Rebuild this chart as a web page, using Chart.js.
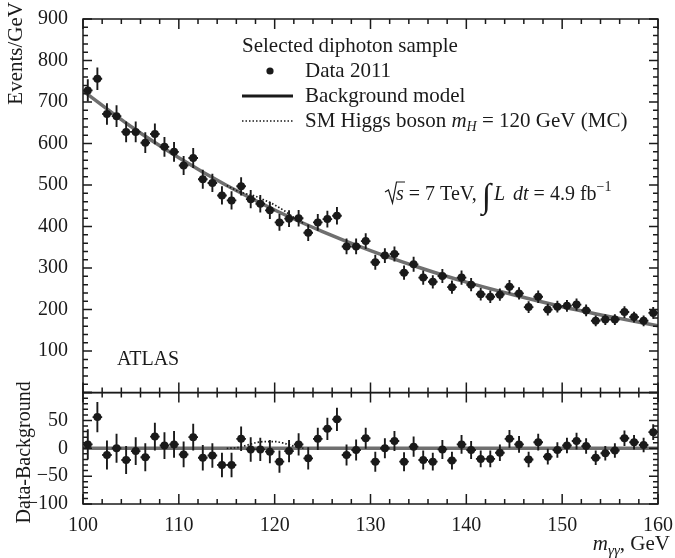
<!DOCTYPE html>
<html>
<head>
<meta charset="utf-8">
<script src="https://cdn.jsdelivr.net/npm/chart.js@4.4.1/dist/chart.umd.min.js"></script>
<style>
  html, body { margin:0; padding:0; background:#fff; }
  #wrap { position:relative; width:675px; height:558px; }
</style>
</head>
<body>
<div id="wrap"><canvas id="c" width="675" height="558"></canvas></div>
<script>
// ── DATA ──
const massBins = [
  100.5,101.5,102.5,103.5,104.5,105.5,106.5,107.5,108.5,109.5,
  110.5,111.5,112.5,113.5,114.5,115.5,116.5,117.5,118.5,119.5,
  120.5,121.5,122.5,123.5,124.5,125.5,126.5,127.5,128.5,129.5,
  130.5,131.5,132.5,133.5,134.5,135.5,136.5,137.5,138.5,139.5,
  140.5,141.5,142.5,143.5,144.5,145.5,146.5,147.5,148.5,149.5,
  150.5,151.5,152.5,153.5,154.5,155.5,156.5,157.5,158.5,159.5
];
const events = [
  728,756,671,666,628,628,602,623,592,580,
  547,565,514,505,475,463,497,466,455,439,
  410,419,420,385,410,418,426,352,352,365,
  314,330,334,289,309,277,267,281,254,277,
  260,237,231,236,255,239,206,231,200,207,
  209,212,198,173,176,176,194,182,173,192
];
const eventErr = [
  27,27,26,26,25,25,25,25,24,24,
  23,24,23,22,22,22,22,22,21,21,
  20,20,20,20,20,20,21,19,19,19,
  18,18,18,17,18,17,16,17,16,17,
  16,15,15,15,16,15,14,15,14,14,
  14,15,14,13,13,13,14,13,13,14
];
const residuals = [
   7, 56,-12,  0,-21, -5,-16, 21,  5,  7,
 -11, 20,-17,-13,-30,-30, 17, -2, -2, -6,
 -24, -5,  7,-18, 17, 35, 52,-12, -3, 18,
 -24,  0, 13,-24,  3,-21,-24, -2,-22,  7,
  -3,-19,-19, -8, 17,  7,-20, 11,-15, -3,
   5, 13,  4,-17, -9, -4, 18, 11,  6, 29
];
const bkgMass   = [100,105,110,115,120,125,130,135,140,145,150,155,160];
const bkgEvents = [727,641,566,499,440,388,342,302,266,235,207,183,161];
const sigMass   = [115,116,117,118,119,120,121,122,123];
const sigEvents = [499,487,479,473,463,452,438,422,408];
const sigResid  = [0,1,5,10,12,12,9,4,0];
const zeroMass  = [100,160];
const zeroLine  = [0,0];

const yTopTicks = [0,900,100];
const yLowTicks = [-100,100,50];
const xTicks    = [100,160,10];

// ── STYLE ──
const FONT  = '"Liberation Serif", "Times New Roman", serif';
const INK   = '#1a1a1a';
const GREY  = '#6f6f6f';
const binHalf = 0.5;

const pts = (xs, ys) => xs.map((x,i) => ({ x, y: ys[i] }));
const fmtMinus = v => v < 0 ? '\u2212' + Math.abs(v) : String(v);

// draw a row of text runs, returns end x
function runs(ctx, x, y, list, measureOnly, base) {
  let cx = x;
  list.forEach(r => {
    ctx.font = `${r.italic ? 'italic ' : ''}${r.size || base || 20}px ${FONT}`;
    if (!measureOnly) ctx.fillText(r.t, cx, y + (r.dy || 0));
    cx += ctx.measureText(r.t).width + (r.gap || 0);
  });
  return cx;
}

function drawErrors(ctx, xs, ys, vals, errs) {
  massBins.forEach((m,i) => {
    const px = xs.getPixelForValue(m);
    const py = ys.getPixelForValue(vals[i]);
    ctx.beginPath();
    ctx.moveTo(px, ys.getPixelForValue(vals[i] - errs[i]));
    ctx.lineTo(px, ys.getPixelForValue(vals[i] + errs[i]));
    ctx.moveTo(xs.getPixelForValue(m - binHalf), py);
    ctx.lineTo(xs.getPixelForValue(m + binHalf), py);
    ctx.stroke();
  });
}

function drawTicks(ctx, xs, ys, yMinorStep, yMajorStep) {
  const l = xs.left, r = xs.right, t = ys.top, b = ys.bottom;
  ctx.beginPath();
  for (let v = xs.min; v <= xs.max + 1e-6; v += 2) {
    const px = xs.getPixelForValue(v);
    const len = (Math.round(v) % 10 === 0) ? 10 : 5;
    ctx.moveTo(px, b); ctx.lineTo(px, b - len);
    ctx.moveTo(px, t); ctx.lineTo(px, t + len);
  }
  for (let v = ys.min; v <= ys.max + 1e-6; v += yMinorStep) {
    const py = ys.getPixelForValue(v);
    const len = (Math.round(v) % yMajorStep === 0) ? 9 : 5;
    ctx.moveTo(l, py); ctx.lineTo(l + len, py);
    ctx.moveTo(r, py); ctx.lineTo(r - len, py);
  }
  ctx.stroke();
  ctx.strokeRect(l, t, r - l, b - t);
}

const panelPlugin = {
  id: 'panelPlugin',
  afterDatasetsDraw(chart) {
    const { ctx, scales: { x, yTop, yLow } } = chart;
    ctx.save();
    ctx.strokeStyle = INK; ctx.lineWidth = 1.9;
    drawErrors(ctx, x, yTop, events, eventErr);
    drawErrors(ctx, x, yLow, residuals, eventErr);
    ctx.restore();
  },
  afterDraw(chart) {
    const { ctx, scales: { x, yTop, yLow } } = chart;
    ctx.save();
    ctx.strokeStyle = INK; ctx.lineWidth = 1.5;
    drawTicks(ctx, x, yTop, 20, 100);
    drawTicks(ctx, x, yLow, 10, 50);

    ctx.fillStyle = INK;
    ctx.textBaseline = 'alphabetic';
    ctx.textAlign = 'left';

    // legend
    runs(ctx, 242, 52, [{ t: 'Selected diphoton sample' }], false, 21);
    ctx.beginPath(); ctx.arc(270, 71, 3.6, 0, Math.PI*2); ctx.fill();
    runs(ctx, 305, 77, [{ t: 'Data 2011' }], false, 21);
    ctx.lineWidth = 3;
    ctx.beginPath(); ctx.moveTo(242, 96); ctx.lineTo(293, 96); ctx.stroke();
    runs(ctx, 305, 102, [{ t: 'Background model' }], false, 21);
    ctx.lineWidth = 1.6; ctx.setLineDash([1.5, 2]);
    ctx.beginPath(); ctx.moveTo(242, 121); ctx.lineTo(293, 121); ctx.stroke();
    ctx.setLineDash([]);
    runs(ctx, 305, 127, [
      { t: 'SM Higgs boson ' }, { t: 'm', italic: true },
      { t: 'H', italic: true, size: 14, dy: 4 },
      { t: ' = 120 GeV (MC)' }
    ], false, 21);

    // energy / luminosity
    ctx.lineWidth = 1.2;
    ctx.beginPath();
    ctx.moveTo(385, 192); ctx.lineTo(388.5, 190); ctx.lineTo(392.5, 203);
    ctx.lineTo(396.5, 182); ctx.lineTo(405, 182);
    ctx.stroke();
    let cx = runs(ctx, 396, 200, [{ t: 's', italic: true }]);
    cx = runs(ctx, cx, 200, [{ t: ' = 7 TeV, ' }]);
    cx = runs(ctx, cx, 200, [{ t: '\u222B', size: 34, dy: 7, gap: 3 }]);
    runs(ctx, cx, 200, [
      { t: 'L', italic: true, gap: 8 }, { t: 'dt', italic: true },
      { t: ' = 4.9 fb' }, { t: '\u22121', size: 14, dy: -9 }
    ]);

    runs(ctx, 117, 365, [{ t: 'ATLAS' }]);

    // x title, right aligned
    const xt = [
      { t: 'm', italic: true }, { t: '\u03B3\u03B3', italic: true, size: 15, dy: 5 },
      { t: ', GeV' }
    ];
    const w = runs(ctx, 0, 0, xt, true, 21);
    runs(ctx, 670 - w, 550, xt, false, 21);

    // y titles
    ctx.save();
    ctx.translate(22, 2); ctx.rotate(-Math.PI/2);
    ctx.textAlign = 'right';
    ctx.font = `21px ${FONT}`;
    ctx.fillText('Events/GeV', 0, 0);
    ctx.restore();

    ctx.save();
    ctx.translate(30, (yLow.top + yLow.bottom) / 2 + 4); ctx.rotate(-Math.PI/2);
    ctx.textAlign = 'center';
    ctx.font = `20px ${FONT}`;
    ctx.fillText('Data-Background', 0, 0);
    ctx.restore();

    ctx.restore();
  }
};

const tickFont = { family: FONT, size: 20 };

new Chart(document.getElementById('c'), {
  type: 'line',
  data: {
    datasets: [
      { data: pts(massBins, events), yAxisID: 'yTop', showLine: false,
        pointRadius: 4, pointBackgroundColor: INK, pointBorderWidth: 0 },
      { data: pts(massBins, residuals), yAxisID: 'yLow', showLine: false,
        pointRadius: 4, pointBackgroundColor: INK, pointBorderWidth: 0 },
      { data: pts(sigMass, sigEvents), yAxisID: 'yTop', borderColor: INK, borderWidth: 1.7,
        borderDash: [1.5, 2], pointRadius: 0, cubicInterpolationMode: 'monotone' },
      { data: pts(sigMass, sigResid), yAxisID: 'yLow', borderColor: INK, borderWidth: 1.7,
        borderDash: [1.5, 2], pointRadius: 0, cubicInterpolationMode: 'monotone' },
      { data: pts(bkgMass, bkgEvents), yAxisID: 'yTop', borderColor: GREY, borderWidth: 3.5,
        pointRadius: 0, cubicInterpolationMode: 'monotone' },
      { data: pts(zeroMass, zeroLine), yAxisID: 'yLow', borderColor: GREY, borderWidth: 3.5,
        pointRadius: 0 }
    ]
  },
  options: {
    responsive: false,
    animation: false,
    events: [],
    layout: { padding: { left: 0, right: 15, top: 12, bottom: 0 } },
    plugins: { legend: { display: false }, tooltip: { enabled: false } },
    scales: {
      x: {
        type: 'linear', position: 'bottom', min: xTicks[0], max: xTicks[1],
        grid: { display: false }, border: { display: false },
        ticks: { stepSize: xTicks[2], color: INK, font: tickFont, padding: 2, maxRotation: 0, autoSkip: false },
        afterFit: s => { s.height = 54; }
      },
      yLow: {
        type: 'linear', position: 'left', stack: 'panels', stackWeight: 113,
        min: yLowTicks[0], max: yLowTicks[1],
        grid: { display: false }, border: { display: false },
        ticks: { stepSize: yLowTicks[2], color: INK, font: tickFont, padding: 7, autoSkip: false,
          callback: v => v === yLowTicks[1] ? '' : fmtMinus(v) },
        afterFit: s => { s.width = 83; }
      },
      yTop: {
        type: 'linear', position: 'left', stack: 'panels', stackWeight: 379,
        min: yTopTicks[0], max: yTopTicks[1],
        grid: { display: false }, border: { display: false },
        ticks: { stepSize: yTopTicks[2], color: INK, font: tickFont, padding: 7, autoSkip: false,
          callback: v => v === yTopTicks[0] ? '' : String(v) },
        afterFit: s => { s.width = 83; }
      }
    }
  },
  plugins: [panelPlugin]
});
</script>
</body>
</html>
